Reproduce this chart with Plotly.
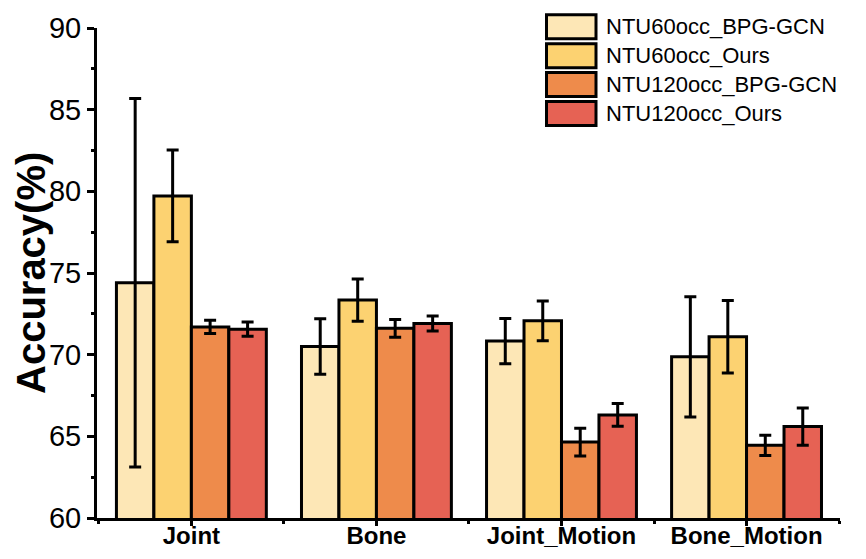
import plotly.graph_objects as go

categories = ["Joint", "Bone", "Joint_Motion", "Bone_Motion"]
series_names = ["NTU60occ_BPG-GCN", "NTU60occ_Ours", "NTU120occ_BPG-GCN", "NTU120occ_Ours"]
ntu60_bpg = [74.4, 70.5, 70.83, 69.87]
ntu60_bpg_err = [11.28, 1.7, 1.39, 3.68]
ntu60_ours = [79.72, 73.34, 72.07, 71.09]
ntu60_ours_err = [2.81, 1.29, 1.22, 2.22]
ntu120_bpg = [71.7, 71.61, 64.65, 64.45]
ntu120_bpg_err = [0.41, 0.55, 0.85, 0.62]
ntu120_ours = [71.56, 71.91, 66.31, 65.6]
ntu120_ours_err = [0.44, 0.46, 0.7, 1.14]
colors = ["#FDE7B6", "#FCD271", "#EE8B4B", "#E66254"]
y_ticks = [60, 65, 70, 75, 80, 85, 90]

values = [ntu60_bpg, ntu60_ours, ntu120_bpg, ntu120_ours]
errors = [ntu60_bpg_err, ntu60_ours_err, ntu120_bpg_err, ntu120_ours_err]

OFF = 8  # page body margin in the browser
W, H = 866 - OFF, 559 - OFF
ML, MR, MT, MB = 97 - OFF, 26, 28 - OFF, 41
PW, PH = W - ML - MR, H - MT - MB

def px2x(px):
    return (px - OFF - ML) / PW

def px2y(py):
    return (H - MB - (py - OFF)) / PH

fig = go.Figure()
xpos = list(range(len(categories)))
for name, v, e, c in zip(series_names, values, errors, colors):
    fig.add_trace(go.Bar(
        x=xpos, y=v, name=name, showlegend=False,
        marker=dict(color=c, line=dict(color="black", width=3)),
        error_y=dict(type="data", array=e, visible=True, color="black",
                     thickness=3, width=6),
    ))

fig.update_layout(
    width=W, height=H,
    margin=dict(l=ML, r=MR, t=MT, b=MB),
    barmode="group", bargap=0.19, bargroupgap=0,
    plot_bgcolor="white", paper_bgcolor="white",
    font=dict(family="Liberation Sans", color="black"),
)
fig.update_xaxes(
    range=[-0.51, 3.505], tickmode="array", tickvals=xpos, ticktext=categories,
    tickfont=dict(size=24, family="Liberation Sans", weight="bold"),
    showline=True, linecolor="black", linewidth=3, showgrid=False, zeroline=False,
    ticks="outside", ticklen=5, tickwidth=3, tickcolor="black", automargin=False,
    ticklabelstandoff=-11,
    minor=dict(tick0=0.5, dtick=1, ticks="outside", ticklen=3, tickwidth=3, tickcolor="black"),
)
fig.update_yaxes(
    range=[60, 90], tickmode="array", tickvals=y_ticks,
    tickfont=dict(size=29, family="Liberation Sans"),
    showline=True, linecolor="black", linewidth=3, showgrid=False, zeroline=False,
    ticks="outside", ticklen=7, tickwidth=3, tickcolor="black", automargin=False,
    minor=dict(tick0=62.5, dtick=5, ticks="outside", ticklen=3, tickwidth=3, tickcolor="black"),
)

# Y-axis title
fig.add_annotation(
    text="Accuracy(%)", textangle=-90, showarrow=False,
    xref="paper", yref="paper", x=px2x(31), y=0.5, xanchor="center", yanchor="middle",
    font=dict(size=40, family="Liberation Sans", weight="bold", color="black"),
)

# Legend drawn with large boxes
box_x0, box_x1 = 546.5, 596
row_tops = [13.3, 42.2, 71.1, 100.0]
box_h = 27
for name, c, top in zip(series_names, colors, row_tops):
    fig.add_shape(
        type="rect", xref="paper", yref="paper",
        x0=px2x(box_x0), x1=px2x(box_x1),
        y0=px2y(top + 1.5), y1=px2y(top + box_h - 1.5),
        fillcolor=c, line=dict(color="black", width=3), layer="above",
    )
    fig.add_annotation(
        text=name, showarrow=False, xref="paper", yref="paper",
        x=px2x(604), y=px2y(top + box_h / 2), xanchor="left", yanchor="middle",
        font=dict(size=22, family="Liberation Sans", color="black"),
    )

fig.write_html("out.html")
